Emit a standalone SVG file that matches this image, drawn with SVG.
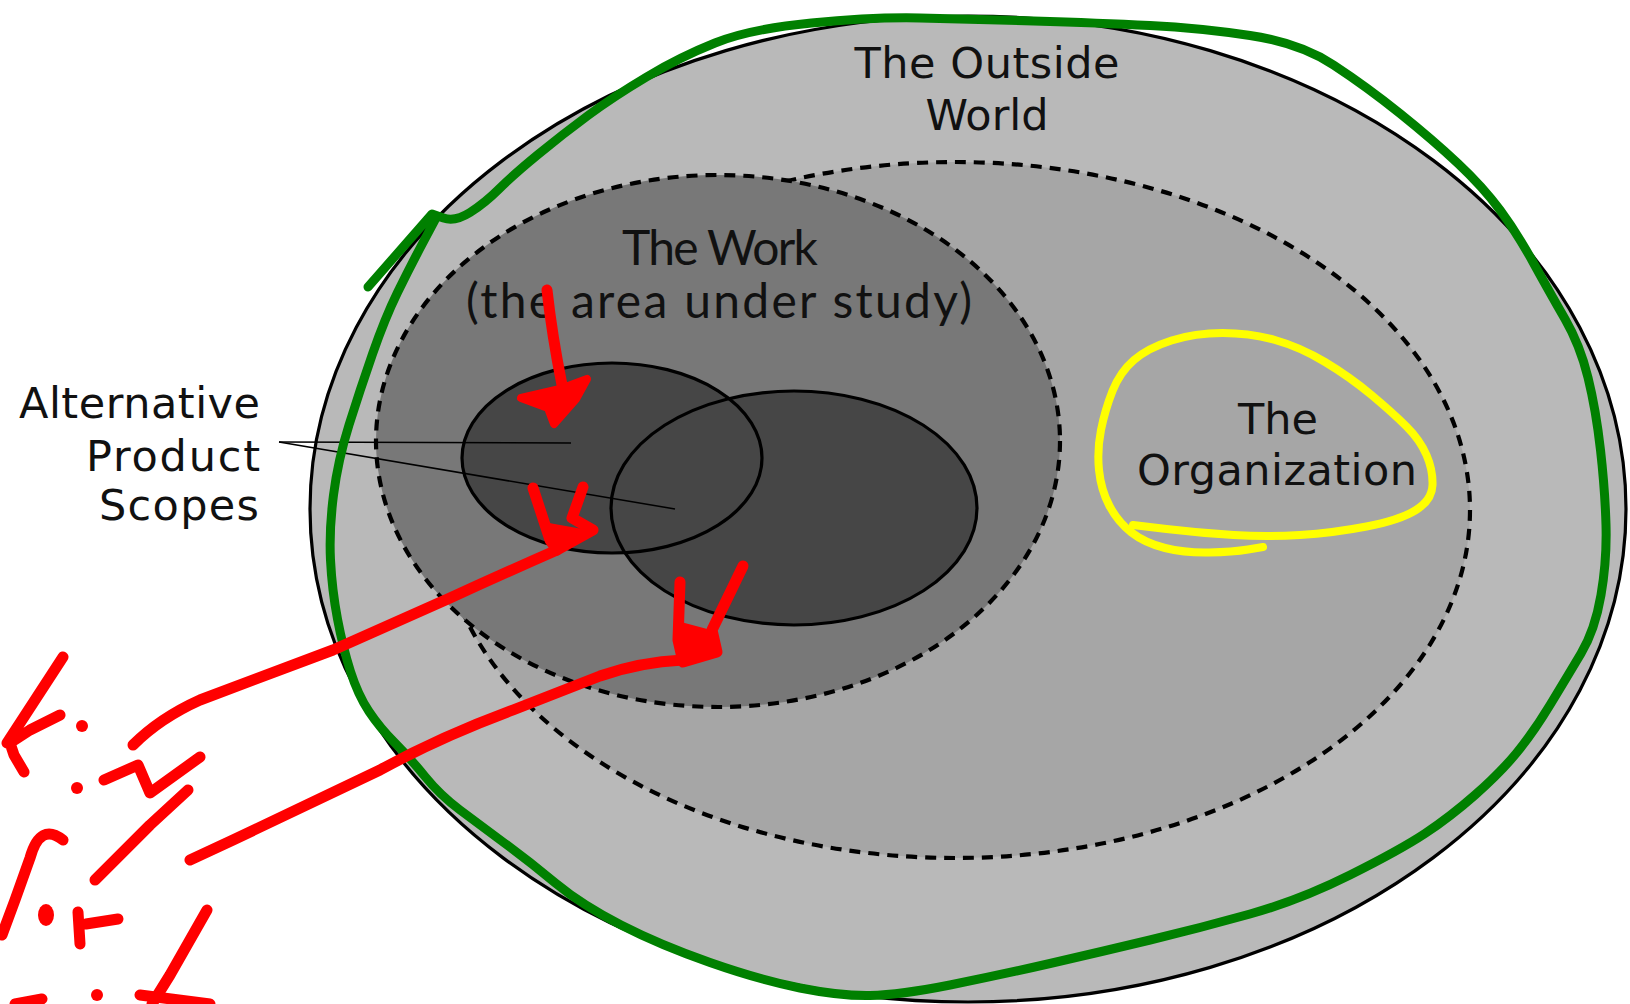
<svg xmlns="http://www.w3.org/2000/svg" width="1630" height="1004" viewBox="0 0 1630 1004">
  <style>
    .lbl { font-family: "DejaVu Sans", "Liberation Sans", sans-serif; font-size: 43px; fill: #111; }
    .work { font-family: "Lato", "Open Sans", sans-serif; font-size: 48px; fill: #111; }
    .dash { stroke: #000; stroke-width: 4.2; stroke-dasharray: 11 8; }
    .solid { stroke: #000; stroke-width: 3.2; }
    .leader { stroke: #000; stroke-width: 1.6; fill: none; }
    .marker-red { stroke: #ff0000; stroke-width: 11; fill: none; stroke-linecap: round; stroke-linejoin: round; }
    .marker-green { stroke: #008000; stroke-width: 9; fill: none; stroke-linecap: round; stroke-linejoin: round; }
    .marker-yellow { stroke: #ffff00; stroke-width: 8; fill: none; stroke-linecap: round; stroke-linejoin: round; }
  </style>
  <rect width="1630" height="1004" fill="#ffffff"/>

  <g id="outside-world">
    <ellipse cx="968" cy="509" rx="658" ry="493" fill="#b9b9b9" class="solid"/>
    <text class="lbl" x="987" y="78" text-anchor="middle" textLength="265">The Outside</text>
    <text class="lbl" x="987" y="130" text-anchor="middle">World</text>
  </g>

  <g id="organization">
    <ellipse cx="955" cy="510" rx="515" ry="348" fill="#a6a6a6" class="dash"/>
  </g>

  <g id="the-work">
    <ellipse cx="718" cy="441" rx="342" ry="266" fill="#787878" class="dash"/>
    <text class="work" x="720" y="265" text-anchor="middle" textLength="196">The Work</text>
    <text class="work" x="719" y="318" text-anchor="middle" textLength="506">(the area under study)</text>
  </g>

  <g id="product-scopes">
    <ellipse cx="612" cy="458" rx="150" ry="95" fill="#464646"/>
    <ellipse cx="794" cy="508" rx="183" ry="117" fill="#464646"/>
    <ellipse cx="612" cy="458" rx="150" ry="95" fill="none" class="solid"/>
    <ellipse cx="794" cy="508" rx="183" ry="117" fill="none" class="solid"/>
  </g>

  <g id="organization-label">
    <text class="lbl" x="1278" y="434" text-anchor="middle">The</text>
    <text class="lbl" x="1277" y="485" text-anchor="middle" textLength="280">Organization</text>
  </g>

  <g id="scopes-label">
    <text class="lbl" x="260" y="418" text-anchor="end" textLength="241">Alternative</text>
    <text class="lbl" x="260" y="471" text-anchor="end" textLength="174">Product</text>
    <text class="lbl" x="259" y="520" text-anchor="end" textLength="160">Scopes</text>
  </g>

  <g id="connectors">
    <path class="leader" d="M279,442 L571,443"/>
    <path class="leader" d="M279,442 L675,509"/>
  </g>

  <g id="annotations">
    <path class="marker-green" d="M368,287 L432,214 L443.5,218 Q455,222 470,212.5 Q485,203 499,189 Q513,175 538,154.5 Q563,134 588,115.5 Q613,97 646.5,77 Q680,57 715,43 Q750,29 811.5,23 Q873,17 920,18 Q967,19 1033.5,21 Q1100,23 1150,25.5 Q1200,28 1250,35.5 Q1300,43 1333.5,65 Q1367,87 1400,113.5 Q1433,140 1458,163.5 Q1483,187 1500,210 Q1517,233 1533.5,263 Q1550,293 1565,319 Q1580,345 1588,377.5 Q1596,410 1600.5,450 Q1605,490 1606,525 Q1607,560 1601,595 Q1595,630 1581,653.5 Q1567,677 1550,705 Q1533,733 1516.5,753 Q1500,773 1475,795 Q1450,817 1425,833.5 Q1400,850 1350,875 Q1300,900 1250,914 Q1200,928 1150,940 Q1100,952 1050,963.5 Q1000,975 950,985 Q900,995 870,995.5 Q840,996 800,988 Q760,980 710,962.5 Q660,945 621,925 Q582,905 556,883.5 Q530,862 505,843.5 Q480,825 460,810 Q440,795 425,776.5 Q410,758 395,743 Q380,728 369,711.5 Q358,695 350.5,671.5 Q343,648 337.5,619 Q332,590 330.5,560 Q329,530 333.5,495 Q338,460 349,425 Q360,390 372.5,354 Q385,318 397.5,292.5 Q410,267 422.5,243.5 L435,220"/>
    <path class="marker-yellow" d="M1133,525 L1166.5,529 Q1200,533 1233.5,535 Q1267,537 1300,535 Q1333,533 1366.5,526.5 Q1400,520 1416,510 Q1432,500 1432.5,485 Q1433,470 1426.5,455 Q1420,440 1406.5,426.5 Q1393,413 1371.5,395 Q1350,377 1325,362 Q1300,347 1275,340 Q1250,333 1222.5,333 Q1195,333 1171.5,340.5 Q1148,348 1134,360 Q1120,372 1112.5,391 Q1105,410 1101,430 Q1097,450 1099,470 Q1101,490 1109.5,506 Q1118,522 1131.5,532.5 Q1145,543 1165,548 Q1185,553 1209,552.5 Q1233,552 1248,549.5 L1263,547"/>
    <path class="marker-red" d="M547,290 Q552,335 562,385"/>
    <path class="marker-red" d="M521,398 L560,389 L587,379 L576,399 L554,424 L548,408 Z" style="fill:#ff0000;stroke-width:8"/>
    <path class="marker-red" d="M533,488 L550,540 L557,550 L593,530 L572,518 L583,487"/>
    <path d="M549,523 L588,530 L557,549 Z" fill="#ff0000"/>
    <path class="marker-red" d="M557,550 Q500,575 450,598 L333,650 Q267,675 200,700 Q160,718 133,745"/>
    <path class="marker-red" d="M680,582 L678,640 L683,662 L717,652 L712,630 L743,566"/>
    <path d="M681,622 L711,630 L716,651 L684,660 Z" fill="#ff0000"/>
    <path class="marker-red" d="M683,660 Q640,662 600,676 L513,710 Q440,737 380,770 L233,840 L190,860"/>
    <path class="marker-red" d="M63,657 L7,743 M60,715 L30,730 L10,743 L14,755 L24,772"/>
    <circle cx="82" cy="726" r="6" fill="#ff0000"/>
    <circle cx="77" cy="788" r="6" fill="#ff0000"/>
    <path class="marker-red" d="M104,780 L138,765 L150,793 L200,757 M188,790 L150,825 L95,880"/>
    <path class="marker-red" d="M63,840 Q40,822 30,858 L15,900 L2,935"/>
    <ellipse cx="46" cy="915" rx="8" ry="11" fill="#ff0000"/>
    <path class="marker-red" d="M78,912 L80,944 M86,924 L118,919"/>
    <path class="marker-red" d="M207,910 L170,975 L152,1004"/>
    <path class="marker-red" d="M15,1004 L42,999 M140,995 L210,1004"/>
    <circle cx="97" cy="995" r="6" fill="#ff0000"/>
  </g>
</svg>
